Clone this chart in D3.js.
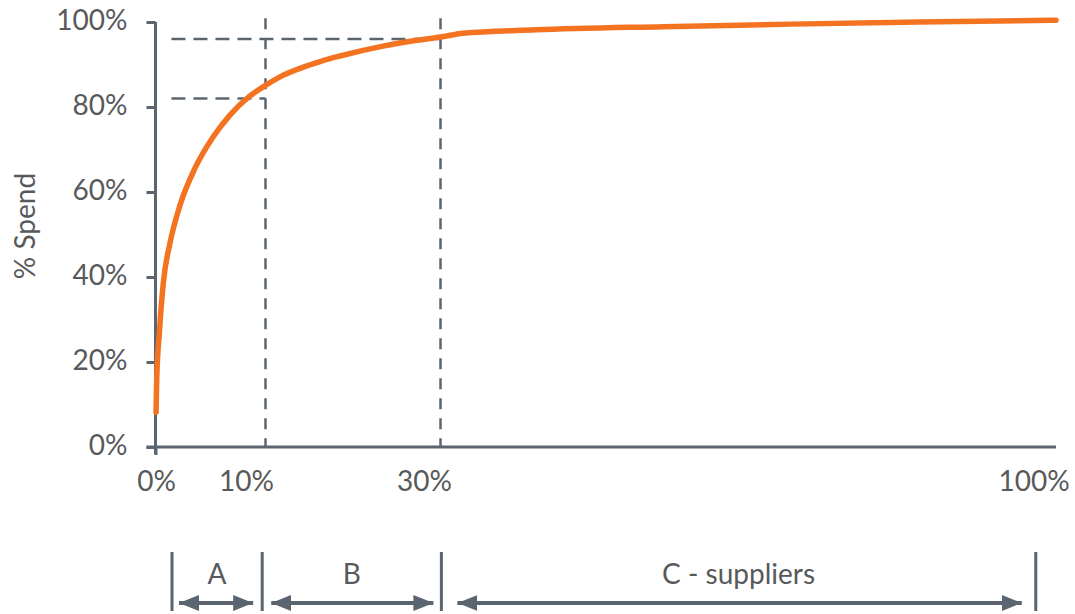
<!DOCTYPE html>
<html>
<head>
<meta charset="utf-8">
<script src="https://cdn.jsdelivr.net/npm/d3@7"></script>
<style>
  html, body { margin: 0; padding: 0; background: #fff; }
  svg { display: block; font-family: Lato, "Open Sans", sans-serif; }
</style>
</head>
<body>
<svg id="chart" width="1075" height="614"></svg>
<script>
// ---- data ----
const supplierPct = [0.05, 0.11, 0.35, 0.71, 1.32, 2.23, 3.59, 5.25, 6.77, 8.59, 10, 11.66, 13.94, 16.23, 18.51, 23.43, 27.31, 30, 32.56, 40.8, 55.3, 69.9, 84.4, 100];
const spendPct    = [8.2, 15.8, 26.8, 38.6, 48, 56.9, 65.6, 73.0, 78.1, 82.6, 85.1, 87.1, 89.1, 90.7, 92.0, 94.33, 95.69, 96.47, 97.36, 98.15, 98.9, 99.5, 100, 100.4];
const yTicks = [0, 20, 40, 60, 80, 100];
const xTickLabels = [0, 10, 30, 100];
const cutoffX = [10, 30];          // vertical dashed guides
const cutoffY = [82, 96];          // horizontal dashed guides (end at matching cutoff)
const segmentBounds = [1.5, 9.7, 30.1, 97.7];
const segmentNames = ["A", "B", "C - suppliers"];
const yAxisTitle = "% Spend";

// ---- layout ----
const svg = d3.select("#chart");
const axisColor = "#5b6570";
const textColor = "#58595b";
const orange = "#f47321";
const fontSize = 28;

const x = d3.scaleLinear().domain([0, 10, 30, 100]).range([155.5, 265.5, 440.5, 1056]);
const y = d3.scaleLinear().domain([0, 100]).range([447, 22]);

// y axis
const yAxis = svg.append("g").attr("transform", `translate(${x(0)},0)`)
  .call(d3.axisLeft(y).tickValues(yTicks).tickFormat(d => d + "%").tickSize(9).tickPadding(19).tickSizeOuter(0));
yAxis.select(".domain").attr("stroke", axisColor).attr("stroke-width", 3)
  .attr("d", `M0,${y(100)}V${y(0) + 7}`);
yAxis.selectAll(".tick line").attr("stroke", axisColor).attr("stroke-width", 3);
yAxis.selectAll(".tick text").attr("fill", textColor).attr("font-size", fontSize)
  .attr("font-family", "Lato").attr("dy", "0.28em");

// x axis
const xAxis = svg.append("g").attr("transform", `translate(0,${y(0)})`)
  .call(d3.axisBottom(x).tickValues([0]).tickFormat("").tickSize(8).tickSizeOuter(0));
xAxis.select(".domain").attr("stroke", axisColor).attr("stroke-width", 3)
  .attr("d", `M${x(0) - 9},0H${x(100)}`);
xAxis.selectAll(".tick line").attr("stroke", axisColor).attr("stroke-width", 3);

// x tick labels (hand-offset as in the reference)
const xLabelShift = [1, -19, -16, -22];
svg.append("g").selectAll("text").data(xTickLabels).join("text")
  .attr("x", (d, i) => x(d) + xLabelShift[i])
  .attr("y", y(0) + 44)
  .attr("text-anchor", "middle")
  .attr("fill", textColor).attr("font-size", fontSize)
  .text(d => d + "%");

// y title
svg.append("text")
  .attr("transform", `translate(35,226) rotate(-90)`)
  .attr("text-anchor", "middle")
  .attr("fill", textColor).attr("font-size", fontSize)
  .text(yAxisTitle);

// dashed guides
const guides = svg.append("g").attr("stroke", axisColor).attr("stroke-width", 2.5).attr("fill", "none");
guides.selectAll("line.v").data(cutoffX).join("line").attr("class", "v")
  .attr("x1", d => x(d)).attr("x2", d => x(d))
  .attr("y1", y(100.9)).attr("y2", y(0))
  .attr("stroke-dasharray", "11,9");
guides.selectAll("line.h").data(cutoffY).join("line").attr("class", "h")
  .attr("x1", x(1.45)).attr("x2", (d, i) => x(cutoffX[i]))
  .attr("y1", d => y(d)).attr("y2", d => y(d))
  .attr("stroke-dasharray", "14,8");

// curve
const pts = supplierPct.map((d, i) => [d, spendPct[i]]);
svg.append("path").datum(pts)
  .attr("fill", "none").attr("stroke", orange).attr("stroke-width", 5.5)
  .attr("stroke-linecap", "round").attr("stroke-linejoin", "round")
  .attr("d", d3.line().x(d => x(d[0])).y(d => y(d[1])).curve(d3.curveMonotoneX));

// bottom brackets
const defs = svg.append("defs");
["start", "end"].forEach(k => {
  defs.append("marker").attr("id", "arr-" + k)
    .attr("viewBox", "0 0 20 16").attr("refX", k === "end" ? 20 : 0).attr("refY", 8)
    .attr("markerWidth", 20).attr("markerHeight", 16).attr("markerUnits", "userSpaceOnUse")
    .attr("orient", "auto")
    .append("path")
    .attr("d", k === "end" ? "M0,0L20,8L0,16Z" : "M20,0L0,8L20,16Z")
    .attr("fill", axisColor);
});

const brk = svg.append("g");
brk.selectAll("line.bar").data(segmentBounds).join("line").attr("class", "bar")
  .attr("x1", d => x(d)).attr("x2", d => x(d))
  .attr("y1", 552).attr("y2", 611)
  .attr("stroke", axisColor).attr("stroke-width", 3);

const segs = segmentNames.map((n, i) => ({ name: n, a: segmentBounds[i], b: segmentBounds[i + 1] }));
const pads = [[7, 9], [9, 8], [16, 14]];
brk.selectAll("line.arrow").data(segs).join("line").attr("class", "arrow")
  .attr("x1", (d, i) => x(d.a) + pads[i][0]).attr("x2", (d, i) => x(d.b) - pads[i][1])
  .attr("y1", 603).attr("y2", 603)
  .attr("stroke", axisColor).attr("stroke-width", 4)
  .attr("marker-start", "url(#arr-start)").attr("marker-end", "url(#arr-end)");
brk.selectAll("text").data(segs).join("text")
  .attr("x", d => (x(d.a) + x(d.b)) / 2).attr("y", 584)
  .attr("text-anchor", "middle").attr("fill", textColor).attr("font-size", fontSize)
  .text(d => d.name);
</script>
</body>
</html>
